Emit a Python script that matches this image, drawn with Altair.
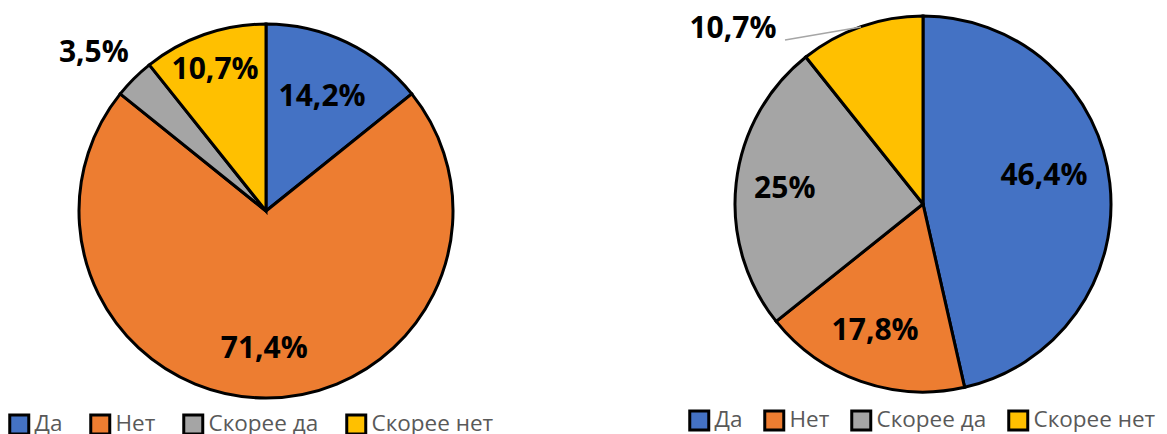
import altair as alt
import pandas as pd

categories = ["Да", "Нет", "Скорее да", "Скорее нет"]
colors = ["#4472C4", "#ED7D31", "#A5A5A5", "#FFC000"]

left_values = [14.2, 71.4, 3.5, 10.7]
left_labels = ["14,2%", "71,4%", "3,5%", "10,7%"]
right_values = [46.4, 17.8, 25.0, 10.7]
right_labels = ["46,4%", "17,8%", "25%", "10,7%"]

# label placement: distance from centre (fraction of radius) and angular nudge (in % of pie)
left_label_r = [0.68, 0.74, 1.25, 0.80]
left_label_shift = [0.15, 0.2, -0.7, -0.17]
right_label_r = [0.66, 0.72, 0.74, 1.0]
right_label_shift = [-1.8, 0.4, 0.0, 0.0]

FONT = "Open Sans"


def pie(values, labels, label_r, label_shift, cx, cy, R, lx, ly, outside_idx=None, col_pad=22):
    total = sum(values)
    df = pd.DataFrame({
        "cat": categories,
        "value": values,
        "idx": list(range(len(categories))),
        "label": labels,
        "lr": [f * R for f in label_r],
        "shift": label_shift,
    })
    tscale = alt.Scale(domain=[0, total])
    color = alt.Color(
        "cat:N",
        scale=alt.Scale(domain=categories, range=colors),
        sort=categories,
        legend=alt.Legend(
            title=None, orient="none", direction="horizontal",
            legendX=lx, legendY=ly,
            symbolType="square", symbolSize=361, symbolStrokeColor="black",
            symbolStrokeWidth=3, symbolOpacity=1,
            labelFont=FONT, labelFontSize=22.5, labelColor="#595959",
            labelOffset=4, columnPadding=col_pad, labelLimit=300,
        ),
    )
    arcs = alt.Chart(df).mark_arc(radius=R, stroke="black", strokeWidth=3).encode(
        theta=alt.Theta("value:Q", stack=True, scale=tscale),
        order=alt.Order("idx:Q"),
        color=color,
        x=alt.value(cx),
        y=alt.value(cy),
    )
    tbase = alt.Chart(df).transform_window(
        cum="sum(value)", sort=[alt.SortField("idx")], frame=[None, 0]
    ).transform_calculate(mid="datum.cum - datum.value / 2 + datum.shift").encode(
        theta=alt.Theta("mid:Q", stack=None, scale=tscale),
        radius=alt.Radius("lr:Q", scale=None),
        x=alt.value(cx),
        y=alt.value(cy),
    )
    expr = "datum.label" if outside_idx is None else f"datum.idx == {outside_idx} ? '' : datum.label"
    texts = tbase.transform_calculate(txt=expr).mark_text(
        font=FONT, fontSize=30, fontWeight="bold", color="black",
        align="center", baseline="middle",
    ).encode(text="txt:N")
    return [arcs, texts], tbase


L_layers, _ = pie(left_values, left_labels, left_label_r, left_label_shift,
                  258, 203, 187, 0, 405, col_pad=21)
R_layers, R_base = pie(right_values, right_labels, right_label_r, right_label_shift,
                       340, 196, 188, 105, 401, outside_idx=3, col_pad=15)

special = R_base.transform_calculate(
    txt="datum.idx == 3 ? datum.label : ''"
).mark_text(
    font=FONT, fontSize=30, fontWeight="bold", color="black",
    align="center", baseline="middle", dx=-128, dy=2,
).encode(text="txt:N")

leader = alt.Chart(pd.DataFrame({"k": [0]})).mark_rule(
    color="#A6A6A6", strokeWidth=1.5
).encode(x=alt.value(202), y=alt.value(32), x2=alt.value(278), y2=alt.value(19))

left = alt.layer(*L_layers).properties(width=575, height=418)
right = alt.layer(*R_layers, special, leader).properties(width=576, height=418)

chart = alt.hconcat(left, right, spacing=0).resolve_scale(
    color="independent", theta="independent"
).resolve_legend(color="independent").properties(
    padding=0
).configure_view(stroke=None)

chart.save("out.html", embed_options={"renderer": "svg", "actions": False})
